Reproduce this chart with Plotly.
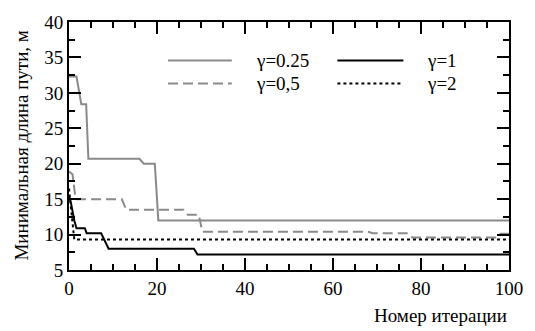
import plotly.graph_objects as go

# gamma = 0.25
x025 = [0, 1.7, 2.8, 3.9, 4.4, 16.0, 17.0, 19.5, 20.3, 100]
y025 = [32.3, 32.3, 28.4, 28.4, 20.7, 20.7, 20.0, 20.0, 12.0, 12.0]
# gamma = 0.5
x05 = [0, 0.8, 1.5, 12.0, 13.0, 26.0, 27.0, 29.5, 30.3, 68.0, 69.0, 77.0, 78.0, 97.0, 98.0, 100]
y05 = [18.9, 18.5, 15.0, 15.0, 13.5, 13.5, 12.8, 12.8, 10.4, 10.4, 10.2, 10.2, 9.6, 9.6, 10.1, 10.1]
# gamma = 1
x1 = [0, 0.5, 1.2, 1.7, 3.6, 4.0, 7.3, 9.0, 28.4, 29.2, 100]
y1 = [15.5, 14.3, 12.0, 10.9, 10.9, 10.2, 10.2, 8.0, 8.0, 7.2, 7.2]
# gamma = 2
x2 = [0, 0.8, 1.2, 100]
y2 = [16.5, 12.0, 9.3, 9.3]

names = ["γ=0.25", "γ=0,5", "γ=1", "γ=2"]

GRAY = "#8a8a8a"
FONT = "Liberation Serif"
FS = 19

fig = go.Figure()
fig.add_trace(go.Scatter(x=x025, y=y025, mode="lines", line=dict(color=GRAY, width=2), name=names[0]))
fig.add_trace(go.Scatter(x=x05, y=y05, mode="lines", line=dict(color=GRAY, width=2, dash="10px,5px"), name=names[1]))
fig.add_trace(go.Scatter(x=x1, y=y1, mode="lines", line=dict(color="black", width=2), name=names[2]))
fig.add_trace(go.Scatter(x=x2, y=y2, mode="lines", line=dict(color="black", width=2, dash="dot"), name=names[3]))
# helper trace on the minor-tick axes
fig.add_trace(go.Scatter(x=[0, 100], y=[5, 40], xaxis="x2", yaxis="y2", mode="lines",
                         line=dict(width=0, color="rgba(0,0,0,0)"), hoverinfo="skip", showlegend=False))

major = dict(showgrid=False, zeroline=False, showline=True, linecolor="black", linewidth=2,
             mirror="allticks", ticks="inside", ticklen=12, tickwidth=1.5, tickcolor="black",
             tickfont=dict(family=FONT, size=FS, color="black"))
minor_ax = dict(showgrid=False, zeroline=False, showline=False, showticklabels=False,
                mirror="allticks", ticks="inside", ticklen=6, tickwidth=1.5, tickcolor="black")

fig.update_layout(
    xaxis=dict(range=[0, 100], tick0=0, dtick=20, **major),
    yaxis=dict(range=[5, 40], tick0=5, dtick=5, **major),
    xaxis2=dict(range=[0, 100], tick0=0, dtick=5, overlaying="x", anchor="y", **minor_ax),
    yaxis2=dict(range=[5, 40], tick0=5, dtick=2.5, overlaying="y", anchor="x", **minor_ax),
)

# manual legend (two columns)
leg = [
    (0.225, 0.37, 0.845, names[0], dict(color=GRAY, width=2)),
    (0.225, 0.37, 0.752, names[1], dict(color=GRAY, width=2, dash="10px,5px")),
    (0.61, 0.76, 0.845, names[2], dict(color="black", width=2)),
    (0.61, 0.76, 0.752, names[3], dict(color="black", width=2, dash="dot")),
]
for x0, x1_, yy, txt, ln in leg:
    fig.add_shape(type="line", xref="paper", yref="paper", x0=x0, x1=x1_, y0=yy, y1=yy, line=ln)
    fig.add_annotation(xref="paper", yref="paper", x=x1_ + 0.05, y=yy, text=txt, showarrow=False,
                       xanchor="left", yanchor="middle", font=dict(family=FONT, size=FS, color="black"))

fig.add_annotation(xref="paper", yref="paper", x=1.0, y=-0.135, text="Номер итерации", showarrow=False,
                   xanchor="right", yanchor="top", font=dict(family=FONT, size=FS, color="black"))
fig.add_annotation(xref="paper", yref="paper", x=-0.11, y=0.5, text="Минимальная длина пути, м",
                   textangle=-90, showarrow=False, xanchor="center", yanchor="middle",
                   font=dict(family=FONT, size=FS, color="black"))

fig.update_layout(width=535, height=331, margin=dict(l=69, r=17, t=13, b=61),
                  font=dict(family=FONT, size=FS, color="black"),
                  plot_bgcolor="white", paper_bgcolor="white", showlegend=False)

fig.write_html("out.html")
